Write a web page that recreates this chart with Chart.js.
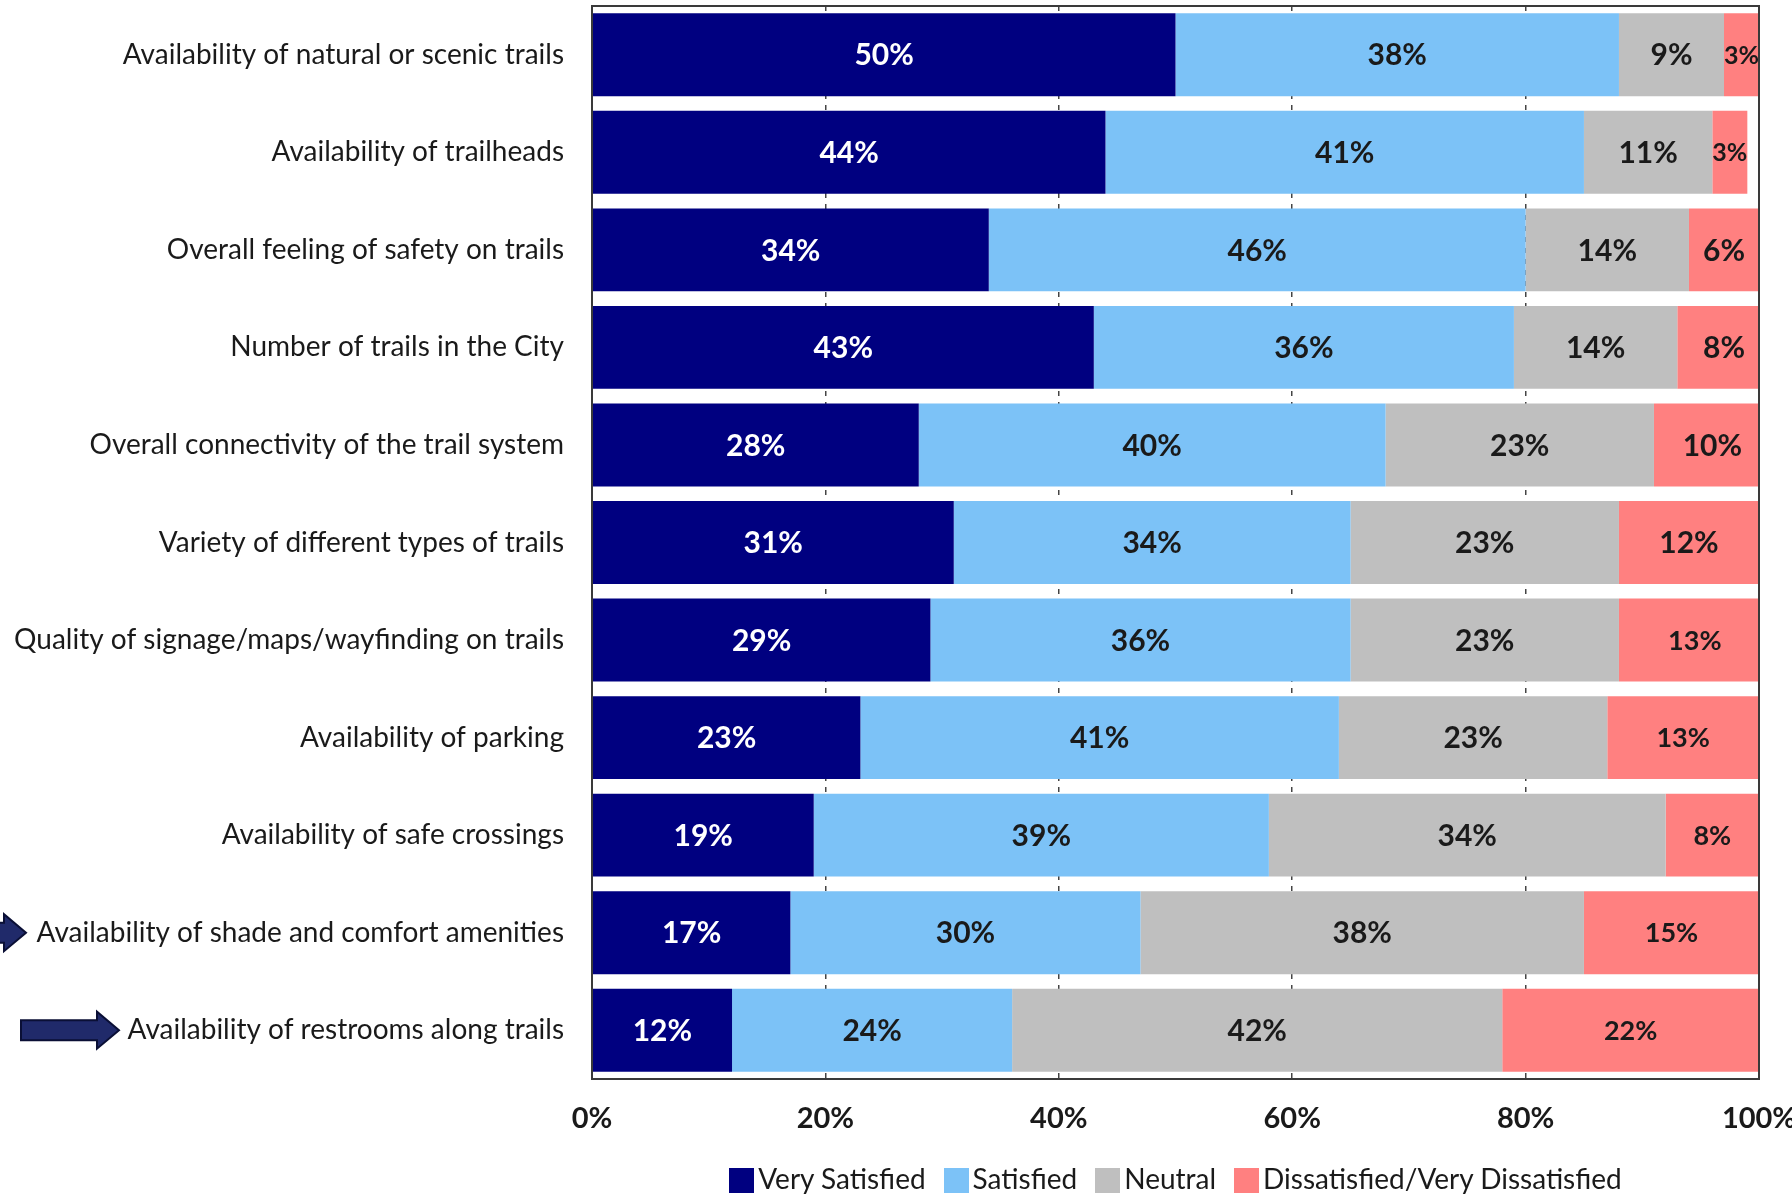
<!DOCTYPE html>
<html>
<head>
<meta charset="utf-8">
<script src="https://cdn.jsdelivr.net/npm/chart.js@4.4.1/dist/chart.umd.min.js"></script>
<style>
  html, body { margin: 0; padding: 0; background: #fff; }
  #wrap { width: 1792px; height: 1194px; position: relative; }
  #legend {
    position: absolute; left: 592px; width: 1167px; top: 1161px;
    text-align: center; font: 28px Lato, "Open Sans", sans-serif; color: #1a1a1a;
    line-height: 34px; white-space: nowrap;
  }
  #legend span.item { display: inline-block; margin: 0 9px; }
  #legend span.box {
    display: inline-block; width: 25px; height: 25px; margin-right: 4px;
    vertical-align: -4px;
  }
</style>
</head>
<body>
<div id="wrap">
  <canvas id="chart-trails"></canvas>
  <div id="legend"></div>
</div>
<script>
const categories = [
  'Availability of natural or scenic trails',
  'Availability of trailheads',
  'Overall feeling of safety on trails',
  'Number of trails in the City',
  'Overall connectivity of the trail system',
  'Variety of different types of trails',
  'Quality of signage/maps/wayfinding on trails',
  'Availability of parking',
  'Availability of safe crossings',
  'Availability of shade and comfort amenities',
  'Availability of restrooms along trails',
];
const verySatisfied = [50, 44, 34, 43, 28, 31, 29, 23, 19, 17, 12];
const satisfied = [38, 41, 46, 36, 40, 34, 36, 41, 39, 30, 24];
const neutral = [9, 11, 14, 14, 23, 23, 23, 23, 34, 38, 42];
const dissatisfied = [3, 3, 6, 8, 10, 12, 13, 13, 8, 15, 22];
const xTicks = [0, 20, 40, 60, 80, 100];
const highlighted = [9, 10];

const FONT = 'Lato, "Open Sans", sans-serif';
const colors = {
  navy: '#000080',
  sky: '#7CC2F7',
  gray: '#BFBFBF',
  salmon: '#FF8080',
  text: '#1a1a1a',
};

// percentage text centred in each segment
const segmentLabels = {
  id: 'segmentLabels',
  afterDatasetsDraw(chart) {
    const { ctx } = chart;
    ctx.save();
    ctx.textAlign = 'center';
    ctx.textBaseline = 'middle';
    chart.data.datasets.forEach((ds, i) => {
      const meta = chart.getDatasetMeta(i);
      meta.data.forEach((bar, j) => {
        const txt = `${ds.data[j]}%`;
        const w = Math.abs(bar.x - bar.base);
        let size = ds.labelSize ? ds.labelSize(j) : 30;
        ctx.font = `bold ${size}px ${FONT}`;
        while (ctx.measureText(txt).width > w + 1 && size > 14) {
          size -= 1;
          ctx.font = `bold ${size}px ${FONT}`;
        }
        ctx.fillStyle = ds.labelColor;
        ctx.fillText(txt, (bar.x + bar.base) / 2, bar.y + 1);
      });
    });
    ctx.restore();
  },
};

// frame round the plot area
const plotFrame = {
  id: 'plotFrame',
  afterDatasetsDraw(chart) {
    const { ctx, chartArea: a } = chart;
    ctx.save();
    ctx.strokeStyle = '#3a3a3a';
    ctx.lineWidth = 2;
    ctx.strokeRect(a.left, a.top, a.right - a.left, a.bottom - a.top);
    ctx.restore();
  },
};

// pointer arrows in front of the highlighted rows
const rowArrows = {
  id: 'rowArrows',
  afterDraw(chart) {
    const { ctx } = chart;
    const y = chart.scales.y;
    const shapes = { 9: { tail: -30, tip: 26 }, 10: { tail: 21, tip: 119 } };
    ctx.save();
    highlighted.forEach((idx) => {
      const s = shapes[idx];
      const cy = y.getPixelForValue(idx);
      const headLen = 22, shaftH = 20, headH = 37;
      const hx = s.tip - headLen;
      ctx.beginPath();
      ctx.moveTo(s.tail, cy - shaftH / 2);
      ctx.lineTo(hx, cy - shaftH / 2);
      ctx.lineTo(hx, cy - headH / 2);
      ctx.lineTo(s.tip, cy);
      ctx.lineTo(hx, cy + headH / 2);
      ctx.lineTo(hx, cy + shaftH / 2);
      ctx.lineTo(s.tail, cy + shaftH / 2);
      ctx.closePath();
      ctx.fillStyle = '#202A6A';
      ctx.fill();
      ctx.strokeStyle = '#0A0F35';
      ctx.lineWidth = 2;
      ctx.stroke();
    });
    ctx.restore();
  },
};

const datasets = [
  { label: 'Very Satisfied', data: verySatisfied, backgroundColor: colors.navy, labelColor: '#ffffff' },
  { label: 'Satisfied', data: satisfied, backgroundColor: colors.sky, labelColor: colors.text },
  { label: 'Neutral', data: neutral, backgroundColor: colors.gray, labelColor: colors.text },
  {
    label: 'Dissatisfied/Very Dissatisfied',
    data: dissatisfied,
    backgroundColor: colors.salmon,
    labelColor: colors.text,
    // the narrow cells and the lower block use the smaller label
    labelSize: (j) => (j < 2 || j > 5 ? 27 : 30),
  },
];

new Chart(document.getElementById('chart-trails'), {
  type: 'bar',
  data: { labels: categories, datasets },
  options: {
    indexAxis: 'y',
    responsive: true,
    maintainAspectRatio: false,
    animation: false,
    datasets: {
      bar: { barPercentage: 1, categoryPercentage: 0.85, borderWidth: 0 },
    },
    layout: { padding: { top: 6, right: 33, left: 0, bottom: 44 } },
    plugins: {
      legend: { display: false },
      tooltip: { enabled: false },
    },
    scales: {
      x: {
        stacked: true,
        min: 0,
        max: 100,
        afterBuildTicks: (scale) => {
          scale.ticks = xTicks.map((v) => ({ value: v }));
        },
        afterFit: (scale) => {
          scale.height = 71;
          scale.paddingLeft = 0;
          scale.paddingRight = 0;
        },
        ticks: {
          padding: 22,
          color: colors.text,
          font: { family: FONT, size: 29, weight: 'bold' },
          callback: (v) => `${v}%`,
        },
        grid: { color: '#444', lineWidth: 1.5, drawTicks: false },
        border: { display: false, dash: [5, 6] },
      },
      y: {
        stacked: true,
        afterFit: (scale) => {
          scale.width = 592;
          scale.paddingTop = 0;
          scale.paddingBottom = 0;
        },
        ticks: {
          padding: 28,
          color: colors.text,
          font: { family: FONT, size: 28 },
        },
        grid: { display: false, drawTicks: false },
        border: { display: false },
      },
    },
  },
  plugins: [segmentLabels, plotFrame, rowArrows],
});

// legend row under the axis
const legendEl = document.getElementById('legend');
datasets.forEach((ds) => {
  const item = document.createElement('span');
  item.className = 'item';
  const box = document.createElement('span');
  box.className = 'box';
  box.style.background = ds.backgroundColor;
  item.appendChild(box);
  item.appendChild(document.createTextNode(ds.label));
  legendEl.appendChild(item);
});
</script>
</body>
</html>
